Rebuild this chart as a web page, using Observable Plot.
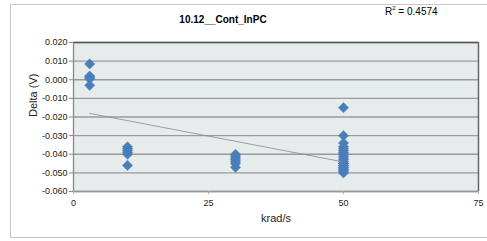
<!DOCTYPE html>
<html><head><meta charset="utf-8">
<script src="https://cdn.jsdelivr.net/npm/d3@7"></script>
<script src="https://cdn.jsdelivr.net/npm/@observablehq/plot@0.6"></script>
<style>
html,body{margin:0;padding:0;background:#fff;}
#wrap{position:relative;width:487px;height:241px;overflow:hidden;font-family:"Liberation Sans",Arial,sans-serif;}
#box{position:absolute;left:10px;top:4px;width:480px;height:234px;border:1.5px solid #c8c8c8;box-sizing:border-box;}
#title{position:absolute;left:0;width:446px;top:14px;text-align:center;font-size:10px;font-weight:bold;color:#000;}
#r2{position:absolute;left:385px;top:5px;font-size:10px;color:#000;}
#chart{position:absolute;left:0;top:0;}
</style></head>
<body><div id="wrap"><div id="box"></div><div id="chart"></div>
<div id="title">10.12__Cont_InPC</div>
<div id="r2">R<sup style="font-size:6px;vertical-align:5px">2</sup> = 0.4574</div></div>
<script>
const krad = [3,3,3,3,3,3, 10,10,10,10,10,10, 30,30,30,30,30,30,30,
  50,50,50,50,50,50,50,50,50,50,50,50,50,50,50,50,50,50,50,50,50,50,50];
const delta = [0.0085,0.002,0.0015,0.001,0.0005,-0.003,
  -0.036,-0.037,-0.038,-0.039,-0.040,-0.046,
  -0.040,-0.041,-0.042,-0.043,-0.044,-0.045,-0.047,
  -0.015,-0.030,-0.034,-0.036,-0.037,-0.038,-0.039,-0.040,-0.041,-0.042,-0.043,-0.044,-0.045,-0.045,-0.046,-0.046,-0.047,-0.047,-0.048,-0.048,-0.049,-0.049,-0.050];
const xTicks = [0,25,50,75];
const yTicks = [0.02,0.01,0,-0.01,-0.02,-0.03,-0.04,-0.05,-0.06];
const data = krad.map((x,i)=>({x, y: delta[i]}));
const fmt = d => (Math.abs(d)<1e-12 ? 0 : d).toFixed(3);
const chart = Plot.plot({
  width: 487, height: 241,
  marginLeft: 73, marginRight: 9, marginTop: 42, marginBottom: 50,
  style: {fontFamily: "'Liberation Sans', Arial, sans-serif", fontSize: "9px", background: "transparent", color:"#222"},
  x: {domain: [0,75], ticks: xTicks},
  y: {domain: [-0.06,0.02], ticks: yTicks},
  marks: [
    Plot.frame({fill: "#e6ecec", stroke: null}),
    Plot.gridY(yTicks, {stroke: "#9a9a9a", strokeOpacity: 1, strokeWidth: 1.3}),
    Plot.ruleY([0.02], {stroke: "#555", strokeWidth: 1.5}),
    Plot.ruleX([75], {stroke: "#666", strokeWidth: 1.5}),
    Plot.ruleY([-0.06], {stroke: "#999", strokeWidth: 1.3}),
    Plot.ruleX([0], {stroke: "#888", strokeWidth: 1.3}),
    Plot.axisY(yTicks, {tickFormat: fmt, tickSize: 4, tickPadding: 2, stroke:"#888", label: null}),
    Plot.axisX(xTicks, {tickSize: 3, tickPadding: 5, stroke:"#aaa", label: null}),
    Plot.text(["Delta (V)"], {frameAnchor: "left", dx: -40, rotate: -90, fontSize: 11}),
    Plot.text(["krad/s"], {frameAnchor: "bottom", dy: 30, fontSize: 11}),
    Plot.dot(data, {x: "x", y: "y", symbol: "diamond2", r: 4.6, fill: "#4a7ebb", stroke: "#4a7ebb", strokeWidth: 0.5}),
    Plot.linearRegressionY(data, {x: "x", y: "y", ci: 0, stroke: "#8a8a8a", strokeWidth: 0.8})
  ]
});
document.getElementById("chart").appendChild(chart);
</script></body></html>
